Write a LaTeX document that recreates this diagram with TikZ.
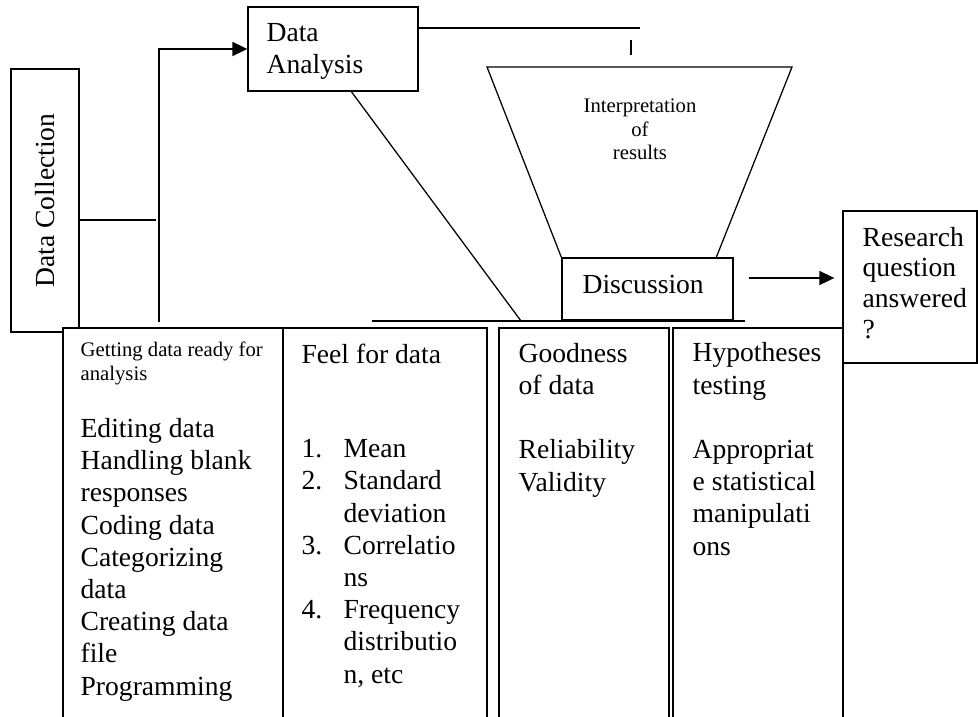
\documentclass[tikz,border=0pt]{standalone}
\usepackage{fontspec}
\setmainfont{Liberation Serif}
\usetikzlibrary{arrows.meta,calc}
\newcommand{\pxu}{0.4348pt}
\newcommand{\numitem}[1]{\llap{\makebox[18.3pt][l]{#1}}}
\begin{document}
\begin{tikzpicture}[x=\pxu,y=-\pxu,line width=0.55pt,
    box/.style={draw,fill=white,inner sep=0pt},
    txt/.style={inner sep=0pt,align=left,font=\fontsize{12}{14}\selectfont},
    small/.style={inner sep=0pt,font=\fontsize{9}{10.4}\selectfont},
    arr/.style={line width=0.9pt,-{Triangle[length=6.5pt,width=6pt]}}]
  \useasboundingbox (0,0) rectangle (978,716);
  \clip (0,0) rectangle (978,716);
  \node[box,minimum width=68*\pxu,minimum height=263*\pxu] (dc) at (45,200.5) {};
  \node[txt,rotate=90] (dctxt) at (45,200.5) {Data Collection};
  \node[box,minimum width=170*\pxu,minimum height=84*\pxu] (da) at (333,49) {};
  \node[txt,anchor=base west] (datxt) at (266,74) {Data\\Analysis};
  \coordinate (ftl) at (487,67);
  \coordinate (ftr) at (792,67);
  \coordinate (fbr) at (716,258);
  \node[box,minimum width=171*\pxu,minimum height=62*\pxu] (disc) at (647.5,289) {};
  \draw (disc.north west) -- (ftl) -- (ftr) -- (fbr);
  \node[small,align=center,anchor=base] (interp) at (640,160) {Interpretation\\of\\results};
  \node[txt,anchor=base west] (disctxt) at (582,293) {Discussion};
  \node[box,minimum width=134*\pxu,minimum height=152*\pxu] (rq) at (910,287) {};
  \node[txt,anchor=base west,font=\fontsize{12}{13.3}\selectfont] (rqtxt) at (862,338) {Research\\question\\answered\\?};
  \foreach \n/\l/\r in {c1/63/283,c2/283/487,c3/499/669,c4/673/843} {
    \node[box,minimum width=(\r-\l)*\pxu,minimum height=402*\pxu] (\n) at ({(\l+\r)/2},529) {};
  }
  \node[small,align=left,anchor=base west] (c1head) at (80,380) {Getting data ready for\\analysis};
  \node[txt,anchor=base west] (c1list) at (80,695) {Editing data\\Handling blank\\responses\\Coding data\\Categorizing\\data\\Creating data\\file\\Programming};
  \node[txt,anchor=base west] (c2head) at (301,363) {Feel for data};
  \node[txt,anchor=base west] (c2list) at (343,683) {\numitem{1.}Mean\\\numitem{2.}Standard\\deviation\\\numitem{3.}Correlatio\\ns\\\numitem{4.}Frequency\\distributio\\n, etc};
  \node[txt,anchor=base west] (c3txt) at (518,491) {Goodness\\of data\\[14pt]Reliability\\Validity};
  \node[txt,anchor=base west] (c4txt) at (692,555) {Hypotheses\\testing\\[14pt]Appropriat\\e statistical\\manipulati\\ons};
  \coordinate (dcend) at (156,220);
  \draw (dc.east |- dcend) -- (dcend);
  \coordinate (risebot) at (159,322);
  \draw[arr] (risebot) |- (da.west);
  \coordinate (tl) at (640,28);
  \draw (da.east |- tl) -- (tl);
  \coordinate (tickt) at (631,40);
  \coordinate (tickb) at (631,55);
  \draw (tickt) -- (tickb);
  \coordinate (baseL) at (372,321);
  \coordinate (baseM) at (521,321);
  \coordinate (baseR) at (745,321);
  \draw (baseL) -- (baseR);
  \draw ($(da.south west)+(104,0)$) -- (baseM);
  \draw[arr] ($(disc.east)+(15,-11)$) -- ($(rq.west)+(-8,-9)$);
\end{tikzpicture}
\end{document}
